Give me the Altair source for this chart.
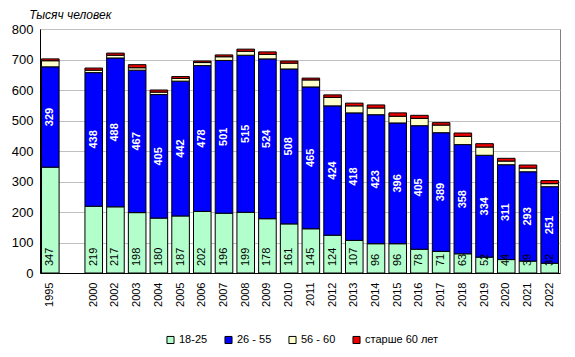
import altair as alt
import pandas as pd

years = ["1995", "2000", "2002", "2003", "2004", "2005", "2006", "2007", "2008",
         "2009", "2010", "2011", "2012", "2013", "2014", "2015", "2016", "2017",
         "2018", "2019", "2020", "2021", "2022"]
slots = ["1995", " "] + years[1:]

age_18_25 = [347, 219, 217, 198, 180, 187, 202, 196, 199, 178, 161, 145, 124, 107,
             96, 96, 78, 71, 63, 52, 44, 39, 32]
age_26_55 = [329, 438, 488, 467, 405, 442, 478, 501, 515, 524, 508, 465, 424, 418,
             423, 396, 405, 389, 358, 334, 311, 293, 251]
age_56_60 = [20, 8, 9, 8, 8, 9, 10, 12, 13, 15, 19, 23, 28, 23, 22, 22, 24, 25, 27,
             27, 12, 12, 10]
age_60p = [6, 7, 7, 10, 7, 6, 5, 6, 7, 8, 7, 6, 8, 9, 10, 11, 10, 8, 11, 11, 9, 10, 10]

groups = ["18-25", "26 - 55", "56 - 60", "старше 60 лет"]
colors = ["#B3FFCC", "#0000FF", "#FFFFCC", "#EE0000"]

rows = []
series = [age_18_25, age_26_55, age_56_60, age_60p]
for i, y in enumerate(years):
    for k, g in enumerate(groups):
        rows.append({"year": y, "group": g, "ord": k, "value": series[k][i]})
df = pd.DataFrame(rows)

lab = pd.DataFrame({"year": years, "g": age_18_25, "b": age_26_55})
lab["mid"] = lab["g"] + lab["b"] / 2
lab["zero"] = 0

FONT = "Liberation Sans"

xscale = alt.Scale(domain=slots, paddingInner=0.19, paddingOuter=0.07)
xaxis = alt.Axis(title=None, labelAngle=270, labelAlign="right",
                 labelBaseline="middle", labelPadding=9, ticks=False,
                 labelFontSize=11, labelFont=FONT, labelColor="black",
                 domainColor="black", labelOverlap=False)
yscale = alt.Scale(domain=[0, 800], nice=False)
yaxis = alt.Axis(title=None, tickCount=8, ticks=False,
                 labelOverlap=False, labelPadding=7, labelFontSize=13,
                 labelFont=FONT, labelColor="black", domainColor="black",
                 gridColor="#C0C0C0", grid=True)

bars = alt.Chart(df).mark_bar(stroke="black", strokeWidth=1).encode(
    x=alt.X("year:N", scale=xscale, axis=xaxis),
    y=alt.Y("value:Q", stack="zero", scale=yscale, axis=yaxis),
    color=alt.Color("group:N",
                    scale=alt.Scale(domain=groups, range=colors),
                    legend=alt.Legend(title=None, orient="none", legendX=125,
                                      legendY=305, direction="horizontal",
                                      symbolType="square", symbolSize=50,
                                      symbolStrokeColor="black",
                                      symbolStrokeWidth=1, labelFontSize=11,
                                      labelFont=FONT, labelColor="black",
                                      columnPadding=14, labelOffset=3)),
    order=alt.Order("ord:Q", sort="ascending"),
)

blue_txt = alt.Chart(lab).mark_text(angle=270, align="center", baseline="middle",
                                    color="white", fontWeight="bold", fontSize=11,
                                    font=FONT).encode(
    x=alt.X("year:N", scale=xscale, axis=xaxis),
    y=alt.Y("mid:Q", scale=yscale, axis=yaxis),
    text=alt.Text("b:Q"),
)

green_txt = alt.Chart(lab).mark_text(angle=270, align="left", baseline="middle",
                                     color="black", fontSize=11, font=FONT,
                                     dx=7).encode(
    x=alt.X("year:N", scale=xscale, axis=xaxis),
    y=alt.Y("zero:Q", scale=yscale, axis=yaxis),
    text=alt.Text("g:Q"),
)

chart = alt.layer(bars, blue_txt, green_txt).properties(
    width=520, height=244,
    title=alt.TitleParams("Тысяч  человек", anchor="start", dx=18, fontSize=12,
                          fontStyle="italic", fontWeight="normal", font=FONT,
                          color="black", offset=1),
    padding={"left": 32, "top": 21, "right": 7, "bottom": 78},
    autosize="none",
).configure_view(stroke="#808080", strokeWidth=1).configure_axis(
    labelOverlap=False
)

chart.save("out.html", embed_options={"renderer": "svg", "actions": False})
